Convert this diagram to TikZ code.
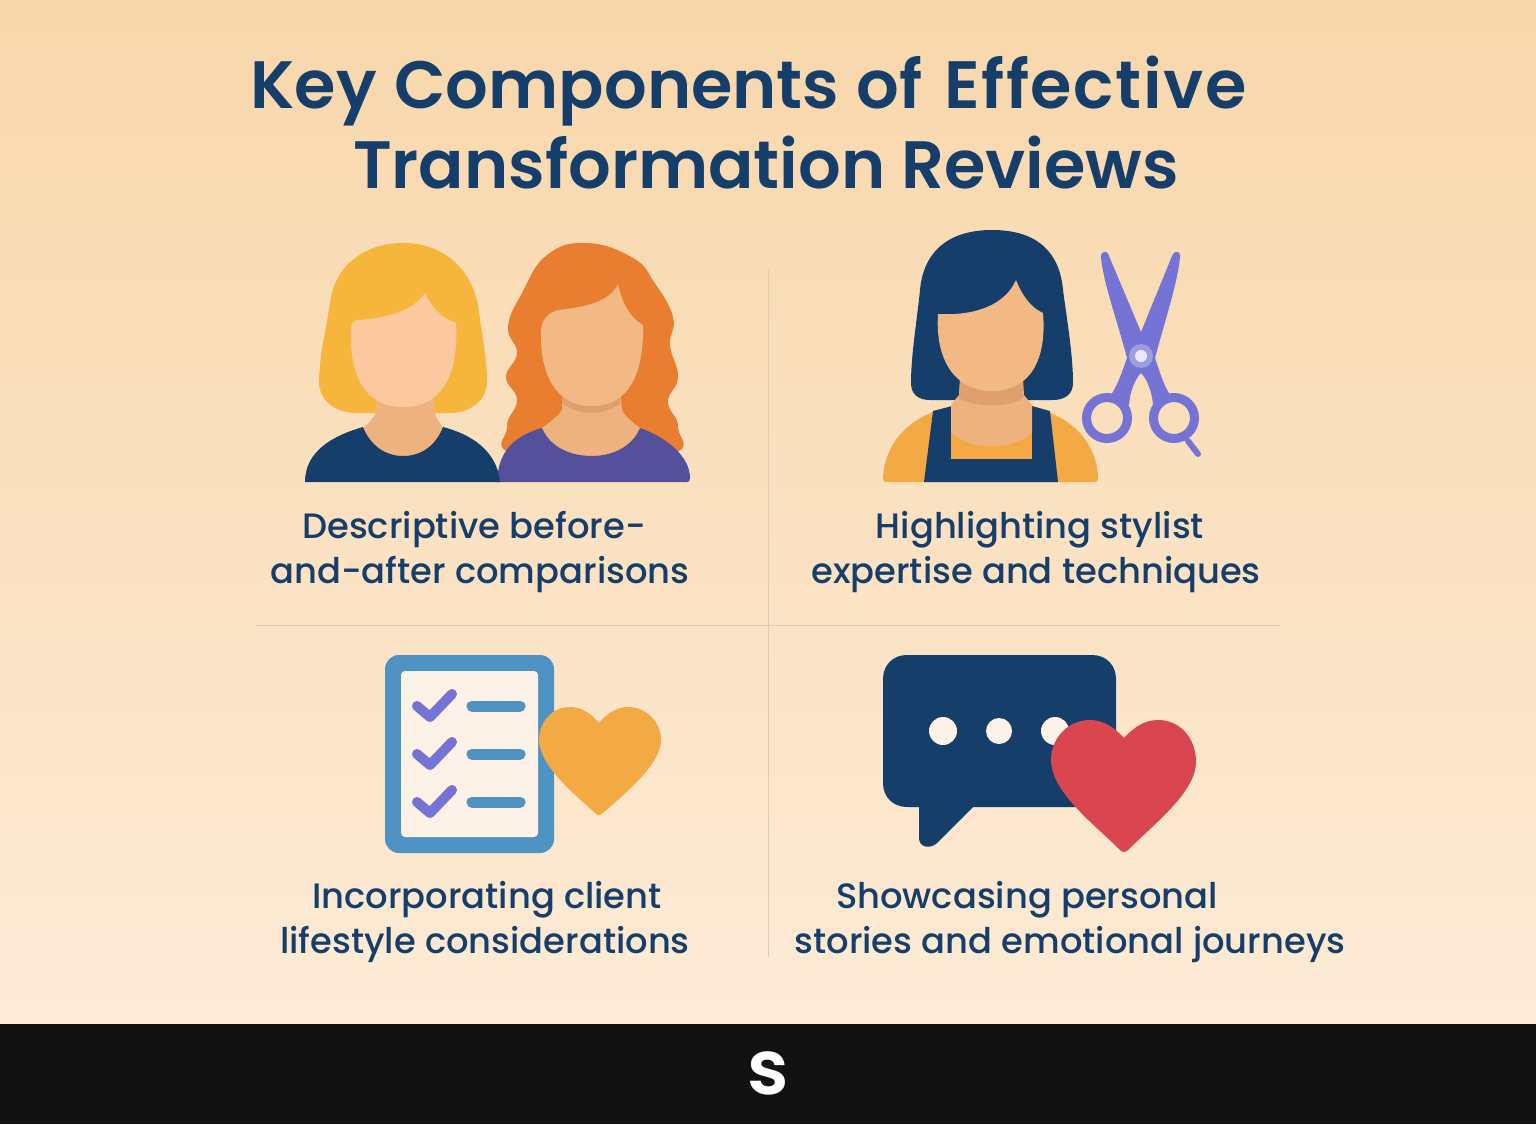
\documentclass[tikz,border=0pt]{standalone}
\usepackage{fontspec}
\setmainfont{Poppins}
\newfontfamily\headfont{Poppins SemiBold}
\newfontfamily\capfont{Poppins Medium}
\usetikzlibrary{positioning}
\definecolor{navy}{HTML}{153E6B}
\definecolor{skinlight}{HTML}{FBC99D}
\definecolor{skin}{HTML}{F3B985}
\definecolor{neckskin}{HTML}{EDB27E}
\definecolor{neckshade}{HTML}{DFA06D}
\definecolor{blonde}{HTML}{F6B63C}
\definecolor{ginger}{HTML}{E97E31}
\definecolor{plum}{HTML}{55509B}
\definecolor{amber}{HTML}{F3A944}
\definecolor{violet}{HTML}{7573D4}
\definecolor{steel}{HTML}{4F93C5}
\definecolor{paper}{HTML}{FCF2E7}
\definecolor{crimson}{HTML}{D9464F}
\definecolor{rulecol}{HTML}{E0CBB0}
\definecolor{bgtop}{HTML}{F8D7AB}
\definecolor{bgbottom}{HTML}{FDEBD6}
\tikzset{
  heading/.style={anchor=base,font=\headfont\fontsize{67}{67}\selectfont,text=navy,inner sep=0pt},
  caption/.style={anchor=base,font=\capfont\fontsize{35.3}{35.3}\selectfont,text=navy,inner sep=0pt},
  divider/.style={draw=rulecol,line width=1pt}
}
\begin{document}
\begin{tikzpicture}[x=1pt,y=-1pt]
    \useasboundingbox (0,0) rectangle (1536,1124);
    \shade[top color=bgtop,bottom color=bgbottom] (0,0) rectangle (1536,1024);
    \fill[black!93] (0,1024) rectangle (1536,1124);

    % heading
    \node[heading] (titleone) at (748.5,108) {Key\hspace{2pt} Components\hspace{1pt} of\hspace{6pt} {\addfontfeature{LetterSpace=2.4}Effective}};
    \node[heading] (titletwo) at (766,188) {Transformation Reviews};

    % dividers
    \draw[divider] (768,270) to (768,957);
    \draw[divider] (256,625) to (1281,625);

    % first woman
    \fill[blonde] (403,243) .. controls (440,243) and (470,265) .. (478,305)
        .. controls (482,335) and (487,360) .. (487,380)
        .. controls (488,400) and (470,413) .. (450,413)
        to (357,413)
        .. controls (335,413) and (318,400) .. (319,380)
        .. controls (320,350) and (327,325) .. (331,297)
        .. controls (338,262) and (368,243) .. (403,243) -- cycle;
    % second woman, hair and shirt
    \fill[ginger] plot[smooth cycle,tension=0.75] coordinates {(587,243) (633,258) (654,282) (673,317) (670,345) (678,377) (668,402) (678,427) (665,455)
        (520,455) (507,427) (517,400) (506,377) (517,353) (508,327) (522,293) (547,255)};
    \fill[neckskin] (562,390) to (620,390) to (622,410) .. controls (626,418) and (635,424) .. (640,428) to (640,460) to (542,460) to (542,428) .. controls (550,422) and (558,416) .. (562,410) -- cycle;
    \fill[neckshade] (562,392) to (620,392) to (620,403) .. controls (605,416) and (578,416) .. (562,403) -- cycle;
    \fill[plum] (497,482) .. controls (498,455) and (510,437) .. (542,428)
        .. controls (550,447) and (570,456) .. (592,456)
        .. controls (612,456) and (632,447) .. (640,428)
        .. controls (668,438) and (690,457) .. (690,478)
        .. controls (690,481) and (689,482) .. (687,482) -- cycle;
    \fill[skin] (541,332) .. controls (541,320) and (548,313) .. (558,310)
        .. controls (585,307) and (610,302) .. (618,284)
        .. controls (622,303) and (630,318) .. (643,325)
        .. controls (644,375) and (628,406) .. (592,406)
        .. controls (556,406) and (540,375) .. (541,332) -- cycle;
    % first woman, neck and shirt
    \fill[neckskin] (376,395) to (434,395) to (434,410) .. controls (434,416) and (440,422) .. (443,428) to (443,460) to (363,460) to (363,428) .. controls (370,422) and (376,416) .. (376,410) -- cycle;
    \fill[navy] (305,482) .. controls (305,450) and (335,435) .. (363,427)
        .. controls (370,445) and (385,456) .. (403,456)
        .. controls (422,456) and (436,445) .. (443,427)
        .. controls (470,434) and (497,450) .. (500,482) -- cycle;
    \fill[skinlight] (351,330) .. controls (351,323) and (353,321) .. (358,320)
        .. controls (385,318) and (412,312) .. (425,293)
        .. controls (432,308) and (442,318) .. (456,323)
        .. controls (459,375) and (442,407) .. (403,407)
        .. controls (365,407) and (349,375) .. (351,330) -- cycle;

    % stylist
    \fill[navy] (992,230) .. controls (1040,230) and (1060,255) .. (1063,290)
        .. controls (1067,320) and (1073,355) .. (1073,383)
        .. controls (1073,394) and (1065,400) .. (1053,400)
        to (930,400)
        .. controls (918,400) and (911,394) .. (911,383)
        .. controls (911,355) and (917,320) .. (920,290)
        .. controls (923,255) and (945,230) .. (992,230) -- cycle;
    \fill[amber] (883,478) .. controls (885,445) and (905,423) .. (933,412) to (1048,412)
        .. controls (1075,422) and (1097,445) .. (1098,478)
        .. controls (1098,481) and (1097,482) .. (1095,482) to (886,482)
        .. controls (884,482) and (883,481) .. (883,478) -- cycle;
    \fill[navy] (933,411) to (952,406) to (1032,406) to (1050,411) to (1058,482) to (924,482) -- cycle;
    \fill[amber] (951,420) rectangle (1032,459);
    \fill[neckskin] (960,380) to (1023,380) to (1024,395) to (1032,405) to (1032,432)
        .. controls (1015,451) and (968,451) .. (951,432) to (951,405) to (959,395) -- cycle;
    \fill[neckshade] (960,380) to (1023,380) to (1023,398) .. controls (1010,408) and (975,408) .. (959,398) -- cycle;
    \fill[skin] (938,314) .. controls (975,316) and (1005,305) .. (1016,280)
        .. controls (1022,295) and (1030,307) .. (1043,313)
        .. controls (1047,360) and (1030,391) .. (992,391)
        .. controls (955,391) and (935,360) .. (938,314) -- cycle;

    % scissors
    \fill[violet] (1101,258) .. controls (1100,251) and (1107,249) .. (1109,256)
        to (1141,332) to (1172,256)
        .. controls (1175,249) and (1181,251) .. (1180,258)
        .. controls (1177,285) and (1165,320) .. (1155,358)
        .. controls (1160,372) and (1163,385) .. (1172,398) to (1153,405)
        .. controls (1152,390) and (1146,378) .. (1141,373)
        .. controls (1136,378) and (1130,390) .. (1129,405) to (1109,398)
        .. controls (1118,385) and (1122,372) .. (1127,358)
        .. controls (1117,320) and (1104,285) .. (1101,258) -- cycle;
    \draw[violet,line width=9pt] (1107,418) circle (20.5);
    \draw[violet,line width=9pt] (1174,418) circle (20.5);
    \draw[violet,line width=6pt,line cap=round] (1188,441) to (1198,454);
    \fill[violet!70!white] (1141,356) circle (12);
    \fill[violet!15!white] (1141,356) circle (6);

    % clipboard
    \fill[steel,rounded corners=14pt] (385,655) rectangle (554,853);
    \fill[paper,rounded corners=4pt] (401,671) rectangle (538,837);
    \foreach \rowy in {0,48,96}{
        \draw[violet,line width=10pt,line cap=round,line join=round] (417,706+\rowy) to (430,717+\rowy) to (452,694+\rowy);
        \draw[steel,line width=11pt,line cap=round] (472,706+\rowy) to (520,706+\rowy);
    }
    \fill[amber] (599,723) .. controls (590,712) and (580,707) .. (570,707)
        .. controls (552,707) and (539,722) .. (539,740)
        .. controls (539,765) and (575,795) .. (595,813)
        .. controls (598,816) and (600,816) .. (603,813)
        .. controls (623,795) and (661,765) .. (661,740)
        .. controls (661,722) and (646,707) .. (628,707)
        .. controls (618,707) and (608,712) .. (599,723) -- cycle;

    % speech bubble
    \fill[navy] (907,655) to (1092,655) .. controls (1106,655) and (1116,665) .. (1116,679)
        to (1116,783) .. controls (1116,797) and (1106,807) .. (1092,807)
        to (973,807) to (937,843) .. controls (931,849) and (919,848) .. (919,838)
        to (919,807) to (907,807) .. controls (893,807) and (883,797) .. (883,783)
        to (883,679) .. controls (883,665) and (893,655) .. (907,655) -- cycle;
    \fill[paper] (943,731) circle (14);
    \fill[paper] (999,731) circle (13);
    \fill[paper] (1055,731) circle (14);
    \fill[crimson] (1124,738) .. controls (1114,727) and (1103,720) .. (1090,720)
        .. controls (1068,720) and (1051,738) .. (1051,760)
        .. controls (1051,792) and (1095,825) .. (1119,849)
        .. controls (1122,853) and (1126,853) .. (1129,849)
        .. controls (1153,825) and (1196,792) .. (1196,762)
        .. controls (1196,738) and (1180,720) .. (1158,720)
        .. controls (1145,720) and (1134,727) .. (1124,738) -- cycle;

    % captions
    \node[caption] (descone) at (474,538) {Descriptive before-};
    \node[caption] (desctwo) at (480,583) {and-after comparisons};
    \node[caption] (styleone) at (1040,538) {Highlighting stylist};
    \node[caption] (styletwo) at (1036,583) {expertise and techniques};
    \node[caption] (lifeone) at (487,908) {Incorporating client};
    \node[caption] (lifetwo) at (485,953) {lifestyle considerations};
    \node[caption] (storyone) at (1027,908) {Showcasing personal};
    \node[caption] (storytwo) at (1070,953) {stories and emotional journeys};

    % logo
    \node[anchor=base,text=white,inner sep=0pt,font=\headfont\fontsize{76}{76}\selectfont] (logo) at (768,1094) {s};
\end{tikzpicture}
\end{document}
